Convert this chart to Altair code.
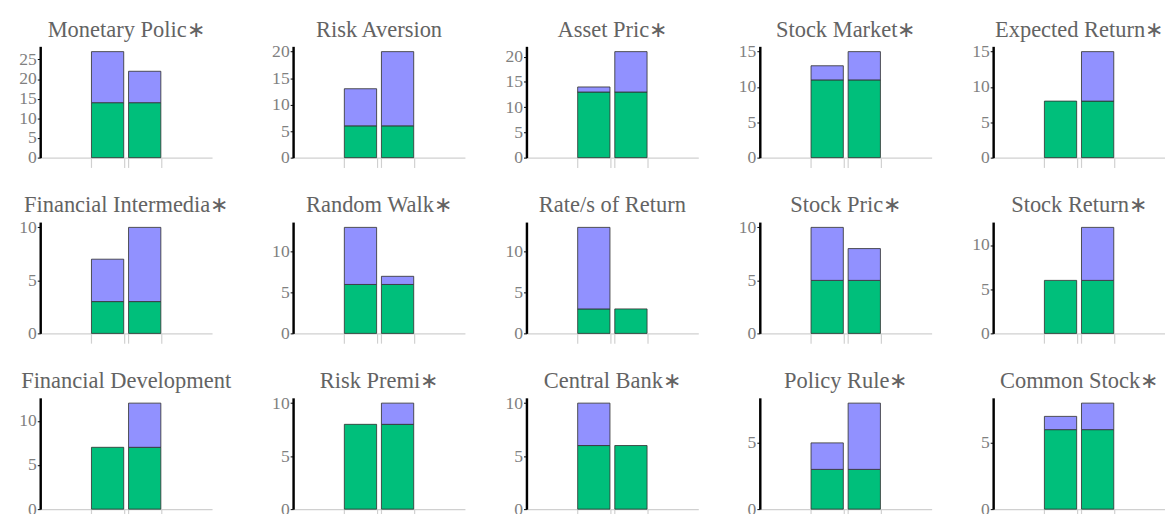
import altair as alt
import pandas as pd

terms = ["Monetary Polic∗", "Risk Aversion", "Asset Pric∗", "Stock Market∗", "Expected Return∗",
         "Financial Intermedia∗", "Random Walk∗", "Rate/s of Return", "Stock Pric∗", "Stock Return∗",
         "Financial Development", "Risk Premi∗", "Central Bank∗", "Policy Rule∗", "Common Stock∗"]
green_a = [14, 6, 13, 11, 8, 3, 6, 3, 5, 6, 7, 8, 6, 3, 6]
purple_a = [13, 7, 1, 2, 0, 4, 7, 10, 5, 0, 0, 0, 4, 2, 1]
green_b = [14, 6, 13, 11, 8, 3, 6, 3, 5, 6, 7, 8, 6, 3, 6]
purple_b = [8, 14, 8, 4, 7, 7, 1, 0, 3, 6, 5, 2, 0, 5, 2]
y_ticks = [0, 5, 10, 15, 20, 25]

rows = []
for i, t in enumerate(terms):
    for k, (g, p) in enumerate([(green_a[i], purple_a[i]), (green_b[i], purple_b[i])]):
        rows.append({"term": t, "bar": k, "seg": "green", "y0": 0, "y1": g})
        if p > 0:
            rows.append({"term": t, "bar": k, "seg": "purple", "y0": g, "y1": g + p})
df = pd.DataFrame(rows)

W, H = 176, 114
half = 0.435
x_scale = alt.Scale(domain=[-1.816, 2.816], nice=False, zero=False)
x_axis = alt.Axis(values=[-half, half, 1 - half, 1 + half], labels=False, title=None, grid=False,
                  domainColor="#d0d0d0", domainWidth=1.5, tickColor="#d0d0d0", tickWidth=1.2, tickSize=10)
y_scale = alt.Scale(zero=True, nice=False)
y_axis = alt.Axis(values=y_ticks, tickCount=20, format="d", title=None, grid=False,
                  domainColor="black", domainWidth=2.5,
                  tickColor="black", tickSize=3, labelFont="Liberation Serif", labelFontSize=18,
                  labelColor="#808080", labelPadding=1, minExtent=30, maxExtent=30)

bars = alt.Chart().transform_calculate(
    xl=f"datum.bar - {half}", xr=f"datum.bar + {half}"
).mark_bar(stroke="#333333", strokeWidth=1, strokeOpacity=0.85).encode(
    x=alt.X("xl:Q", scale=x_scale, axis=x_axis),
    x2="xr:Q",
    y=alt.Y("y0:Q", scale=y_scale, axis=y_axis),
    y2="y1:Q",
    color=alt.Color("seg:N", scale=alt.Scale(domain=["green", "purple"], range=["#00BF7B", "#9191FF"]), legend=None),
)

pad = alt.Chart().transform_joinaggregate(
    mx="max(y1)", groupby=["term"]
).transform_calculate(top="datum.mx * 1.05").mark_point(opacity=0, size=1).encode(
    x=alt.X("bar:Q", scale=x_scale, axis=x_axis),
    y=alt.Y("top:Q", scale=y_scale, axis=y_axis),
)

titles = alt.Chart().transform_aggregate(
    n="count()", groupby=["term"]
).mark_text(font="Liberation Serif", fontSize=23, color="#636363", baseline="alphabetic", align="center").encode(
    text="term:N",
    x=alt.value(W / 2),
    y=alt.value(-10),
)

chart = alt.layer(bars, pad, titles, data=df).properties(width=W, height=H).facet(
    facet=alt.Facet("term:N", sort=terms,
                    header=alt.Header(title=None, labelExpr="''", labelFontSize=1, labelPadding=0)),
    columns=5,
    spacing={"row": 26, "column": 33},
).resolve_scale(x="independent", y="independent").properties(
    padding={"left": 3, "top": 4, "right": 0, "bottom": 0}, background="white"
).configure_view(stroke="transparent", strokeWidth=0)

chart.save("out.html", embed_options={"renderer": "svg", "actions": False})
